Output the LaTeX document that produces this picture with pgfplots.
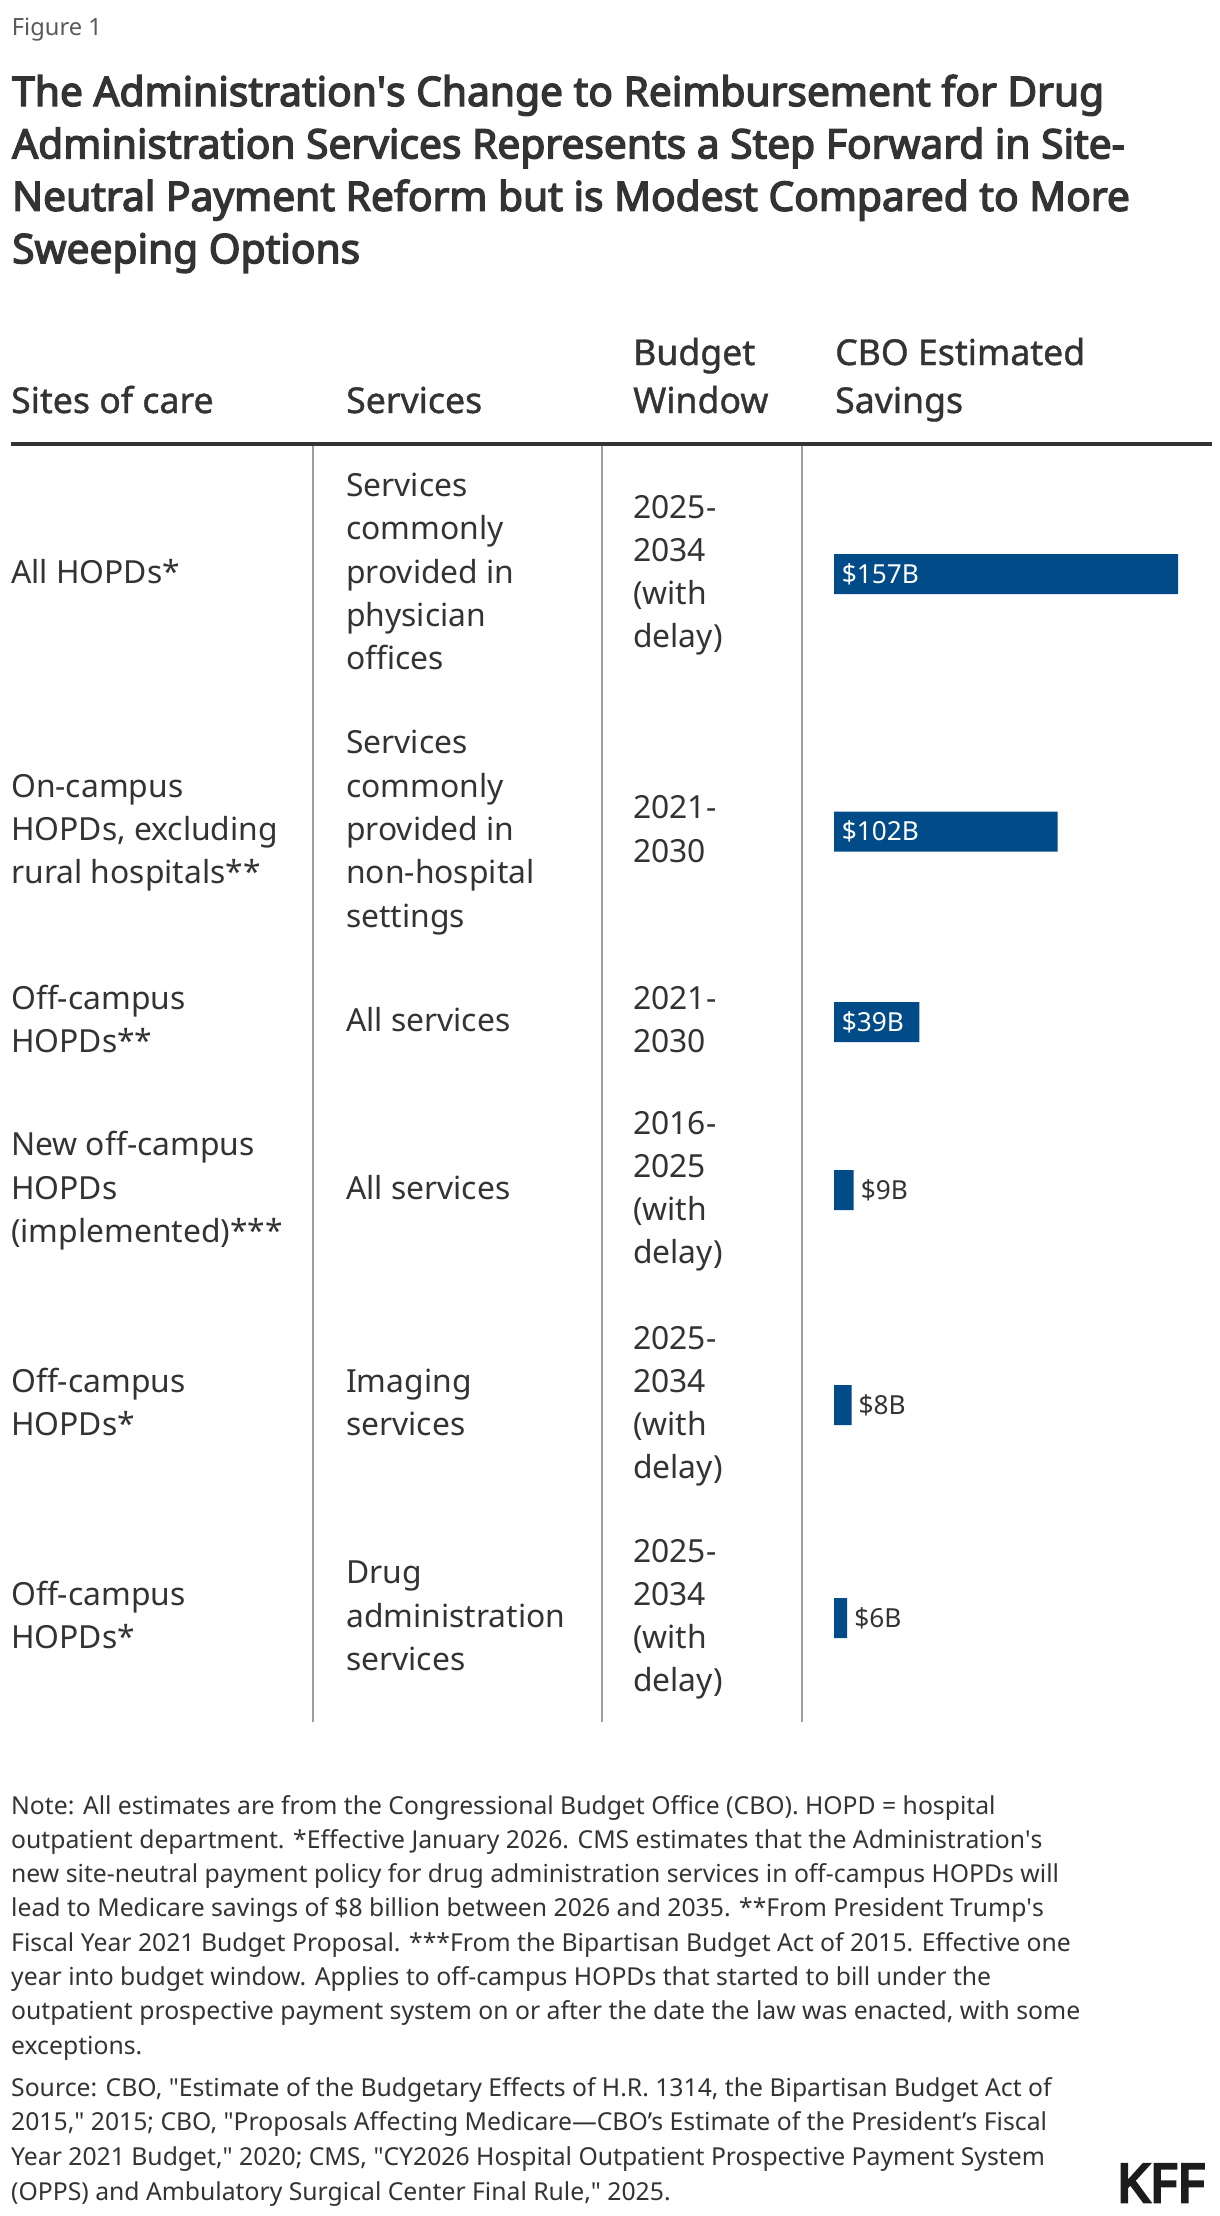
\documentclass[border=0pt]{standalone}
\usepackage{fontspec}
\setmainfont{Noto Sans}
\newfontfamily\semib{Noto Sans}[FakeBold=1.1]
\newfontfamily\boldf{Noto Sans}[FakeBold=3.4]
\newfontfamily\kfff{Noto Sans}[FakeBold=5]
\usepackage{pgfplots}
\pgfplotsset{compat=1.18}

\definecolor{txt}{HTML}{333333}
\definecolor{figgray}{HTML}{595959}
\definecolor{kffblue}{HTML}{004B88}
\definecolor{rulegray}{HTML}{9E9E9E}
\definecolor{logo}{HTML}{1C1C1C}

% font size that makes a sample string as wide as in the reference (px = pt)
\newlength\tmpw
\newcommand\fitsize[4]{\settowidth{\tmpw}{#2\fontsize{10pt}{12pt}\selectfont #3}\pgfmathsetmacro#1{10*#4/\tmpw}}
\fitsize\figsz{}{Figure 1}{90}
\fitsize\titlesz{\boldf}{The Administration\textquotesingle s Change to Reimbursement for Drug}{1092}
\fitsize\headsz{\semib}{CBO Estimated}{250}
\fitsize\bodysz{}{administration}{219}
\fitsize\labsz{}{\$157B}{77}
\fitsize\footsz{}{outpatient prospective payment system on or after the date the law was enacted, with some}{1069}
\fitsize\kffsz{\kfff}{KFF}{88}
\newcommand\q{\textquotedbl}
% one line of text, baseline at (x, y from top)
\newcommand\T[3]{\node[anchor=base west,inner sep=0pt] at (#1,-#2) {#3};}

\begin{document}
\begin{tikzpicture}[x=1pt,y=1pt]
\path[use as bounding box] (0,0) rectangle (1220,-2216);

% title block
\begin{scope}[font=\fontsize{\figsz pt}{\figsz pt}\selectfont, text=figgray]
\T{11.7}{36}{Figure 1}
\end{scope}
\begin{scope}[font=\boldf\fontsize{\titlesz pt}{\titlesz pt}\selectfont, text=txt]
\T{12}{106}{The Administration\textquotesingle s Change to Reimbursement for Drug}
\T{12}{158.4}{Administration Services Represents a Step Forward in Site-}
\T{12}{210.8}{Neutral Payment Reform but is Modest Compared to More}
\T{12}{263.2}{Sweeping Options}
\end{scope}

% column heads
\begin{scope}[font=\semib\fontsize{\headsz pt}{\headsz pt}\selectfont, text=txt]
\T{11}{413}{Sites of care}
\T{346}{413}{Services}
\T{633}{365}{Budget}
\T{633}{413}{Window}
\T{835}{365}{CBO Estimated}
\T{835}{413}{Savings}
\end{scope}

\draw[line width=4pt, txt] (11,-444) -- (1212,-444);
\draw[line width=2pt, rulegray] (313,-446) -- (313,-1722);
\draw[line width=2pt, rulegray] (602,-446) -- (602,-1722);
\draw[line width=2pt, rulegray] (802,-446) -- (802,-1722);

% table cells
\begin{scope}[font=\fontsize{\bodysz pt}{\bodysz pt}\selectfont, text=txt]
% row 1
\T{11}{583}{All HOPDs*}
\T{346}{496.4}{Services}
\T{346}{539.7}{commonly}
\T{346}{583}{provided in}
\T{346}{626.3}{physician}
\T{346}{669.6}{offices}
\T{633}{518.05}{2025-}
\T{633}{561.35}{2034}
\T{633}{604.65}{(with}
\T{633}{647.95}{delay)}
% row 2
\T{11}{797.2}{On-campus}
\T{11}{840.5}{HOPDs, excluding}
\T{11}{883.8}{rural hospitals**}
\T{346}{753.9}{Services}
\T{346}{797.2}{commonly}
\T{346}{840.5}{provided in}
\T{346}{883.8}{non-hospital}
\T{346}{927.1}{settings}
\T{633}{818.85}{2021-}
\T{633}{862.15}{2030}
% row 3
\T{11}{1009.35}{Off-campus}
\T{11}{1052.65}{HOPDs**}
\T{346}{1031}{All services}
\T{633}{1009.35}{2021-}
\T{633}{1052.65}{2030}
% row 4
\T{11}{1155.7}{New off-campus}
\T{11}{1199}{HOPDs}
\T{11}{1242.3}{(implemented)***}
\T{346}{1199}{All services}
\T{633}{1134.05}{2016-}
\T{633}{1177.35}{2025}
\T{633}{1220.65}{(with}
\T{633}{1263.95}{delay)}
% row 5
\T{11}{1392.35}{Off-campus}
\T{11}{1435.65}{HOPDs*}
\T{346}{1392.35}{Imaging}
\T{346}{1435.65}{services}
\T{633}{1349.05}{2025-}
\T{633}{1392.35}{2034}
\T{633}{1435.65}{(with}
\T{633}{1478.95}{delay)}
% row 6
\T{11}{1605.35}{Off-campus}
\T{11}{1648.65}{HOPDs*}
\T{346}{1583.7}{Drug}
\T{346}{1627}{administration}
\T{346}{1670.3}{services}
\T{633}{1562.05}{2025-}
\T{633}{1605.35}{2034}
\T{633}{1648.65}{(with}
\T{633}{1691.95}{delay)}
\end{scope}

% savings bars (x in $ billions, y = row centre in px from top)
\begin{axis}[
    at={(834pt,-444pt)}, anchor=north west,
    scale only axis, width=372.5pt, height=1280pt,
    xmin=0, xmax=170, ymin=444, ymax=1724, y dir=reverse,
    enlargelimits=false, hide axis, clip=false,
    xbar, bar width=40pt, bar shift=0pt,
]
\addplot[fill=kffblue, draw=none]
    coordinates {(157,574) (102,831.5) (39,1022)};
\addplot[fill=kffblue, draw=none, nodes near coords, point meta=explicit symbolic,
    every node near coord/.append style={anchor=base west, inner sep=0pt, xshift=7pt,
        yshift=-0.357*\labsz pt, text=txt, font=\fontsize{\labsz pt}{\labsz pt}\selectfont}]
    coordinates {(9,1190) [\$9B] (8,1405) [\$8B] (6,1618) [\$6B]};
\begin{scope}[every node/.style={anchor=base west, inner sep=0pt, xshift=7.7pt,
        yshift=-0.357*\labsz pt, text=white, font=\fontsize{\labsz pt}{\labsz pt}\selectfont}]
\node at (axis cs:0,574) {\$157B};
\node at (axis cs:0,831.5) {\$102B};
\node at (axis cs:0,1022) {\$39B};
\end{scope}
\end{axis}

% notes and sources
\begin{scope}[font=\fontsize{\footsz pt}{\footsz pt}\selectfont, text=txt]
\T{11}{1814}{Note: All estimates are from the Congressional Budget Office (CBO). HOPD = hospital}
\T{11}{1848.3}{outpatient department. *Effective January 2026. CMS estimates that the Administration\textquotesingle s}
\T{11}{1882.6}{new site-neutral payment policy for drug administration services in off-campus HOPDs will}
\T{11}{1916.9}{lead to Medicare savings of \$8 billion between 2026 and 2035. **From President Trump\textquotesingle s}
\T{11}{1951.2}{Fiscal Year 2021 Budget Proposal. ***From the Bipartisan Budget Act of 2015. Effective one}
\T{11}{1985.5}{year into budget window. Applies to off-campus HOPDs that started to bill under the}
\T{11}{2019.8}{outpatient prospective payment system on or after the date the law was enacted, with some}
\T{11}{2054.1}{exceptions.}
\T{11}{2096}{Source: CBO, \q Estimate of the Budgetary Effects of H.R. 1314, the Bipartisan Budget Act of}
\T{11}{2130.7}{2015,\q{} 2015; CBO, \q Proposals Affecting Medicare—CBO’s Estimate of the President’s Fiscal}
\T{11}{2165.4}{Year 2021 Budget,\q{} 2020; CMS, \q CY2026 Hospital Outpatient Prospective Payment System}
\T{11}{2200.1}{(OPPS) and Ambulatory Surgical Center Final Rule,\q{} 2025.}
\end{scope}
\node[anchor=base east, inner sep=0pt, text=logo, font=\kfff\fontsize{\kffsz pt}{\kffsz pt}\selectfont] at (1205,-2202) {KFF};
\end{tikzpicture}
\end{document}
